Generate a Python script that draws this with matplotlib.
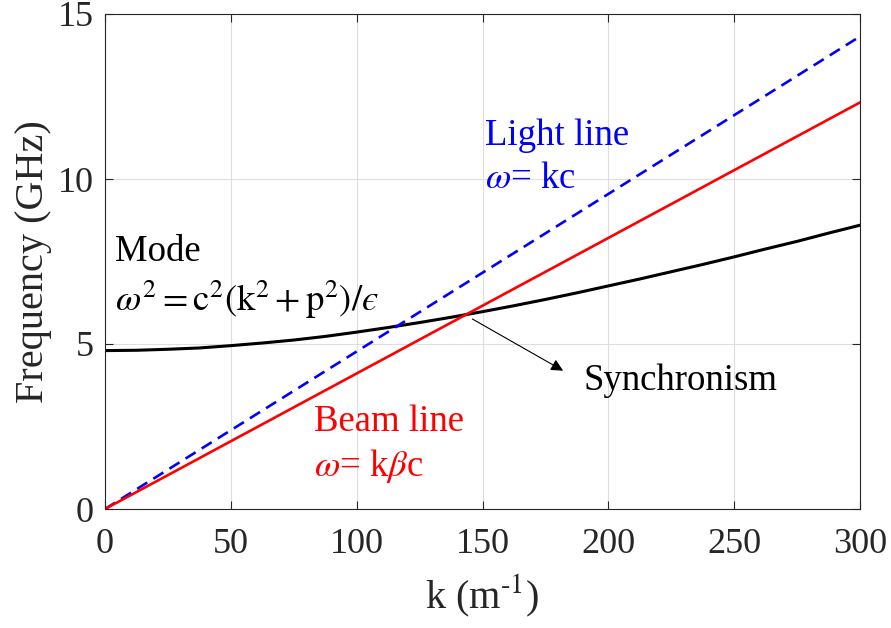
import numpy as np
import matplotlib
matplotlib.use("Agg")
import matplotlib.pyplot as plt

plt.rcParams["font.family"] = ["Liberation Serif", "DejaVu Serif"]
plt.rcParams["mathtext.fontset"] = "stix"

# wavenumber k (1/m) and frequencies (GHz)
k_line = [0, 300]
light_line = [0.0, 14.32]
beam_line = [0.0, 12.32]

k_mode = [0, 12.5, 25, 37.5, 50, 62.5, 75, 87.5, 100, 112.5, 125, 137.5, 150,
          162.5, 175, 187.5, 200, 212.5, 225, 237.5, 250, 262.5, 275, 287.5, 300]
mode = [4.80, 4.81, 4.84, 4.88, 4.95, 5.03, 5.12, 5.23, 5.36, 5.50, 5.65, 5.81, 5.98,
        6.16, 6.35, 6.55, 6.76, 6.97, 7.19, 7.41, 7.64, 7.88, 8.11, 8.36, 8.60]

xticks = [0, 50, 100, 150, 200, 250, 300]
yticks = [0, 5, 10, 15]

fig = plt.figure(figsize=(8.91, 6.28), dpi=100)
ax = fig.add_axes([105 / 891, 1 - 509 / 628, 755 / 891, 495 / 628])

ax.plot(k_mode, mode, color="black", lw=2.2)
ax.plot(k_line, light_line, color="blue", lw=1.9, ls=(0, (4.5, 2.7)))
ax.plot(k_line, beam_line, color="red", lw=1.9)

ax.set_xlim(0, 300)
ax.set_ylim(0, 15)
ax.set_xticks(xticks)
ax.set_yticks(yticks)
ax.grid(True, color="#dedede", lw=0.8)
ax.set_axisbelow(True)
ax.tick_params(direction="in", top=True, right=True, length=6, width=0.8,
               labelsize=26, colors="#262626", pad=8)
ax.tick_params(axis="x", pad=14)
for s in ax.spines.values():
    s.set_color("#262626")
    s.set_linewidth(0.8)

ax.set_xlabel(r"k (m$^{\text{-1}}$)", fontsize=29, color="#262626", labelpad=8)
ax.set_ylabel("Frequency (GHz)", fontsize=29, color="#262626", labelpad=4)

fs = 26.5
ax.text(4, 7.8, "Mode", fontsize=fs, color="black", va="center")
ax.text(4, 6.35, "$\\omega^2 = \\mathrm{c}^2(\\mathrm{k}^2 + \\mathrm{p}^2)/\u03f5$",
        fontsize=fs, color="black", va="center")
ax.text(151, 11.3, "Light line", fontsize=fs, color="blue", va="center")
ax.text(151, 10.0, r"$\omega$= kc", fontsize=fs, color="blue", va="center")
ax.text(83, 2.65, "Beam line", fontsize=fs, color="red", va="center")
ax.text(83, 1.3, r"$\omega$= k$\beta$c", fontsize=fs, color="red", va="center")

ax.annotate("", xy=(183, 4.15), xytext=(145, 5.8),
            arrowprops=dict(arrowstyle="-|>", color="black", lw=0.8,
                            mutation_scale=18))
ax.text(190, 3.9, "Synchronism", fontsize=fs, color="black", va="center")

fig.savefig("out.png", dpi=100)
